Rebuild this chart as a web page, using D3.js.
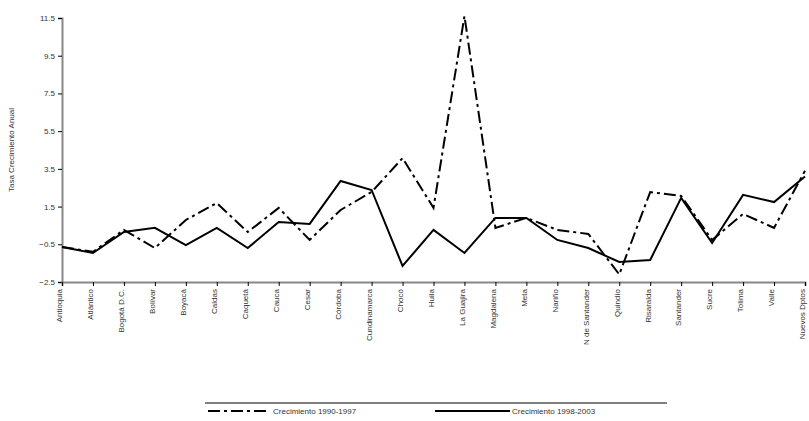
<!DOCTYPE html>
<html><head><meta charset="utf-8">
<script src="https://cdn.jsdelivr.net/npm/d3@7"></script>
<style>
body{margin:0;background:#fff;}
text{font-family:Arial,"Liberation Sans",sans-serif;fill:#333;}
</style></head>
<body><svg width="809" height="421"></svg>
<script>
// Departments on the x axis
var departments = ["Antioquia","Atlántico","Bogotá D.C.","Bolívar","Boyacá","Caldas","Caquetá","Cauca","Cesar","Córdoba","Cundinamarca","Chocó","Huila","La Guajira","Magdalena","Meta","Nariño","N de Santander","Quindío","Risaralda","Santander","Sucre","Tolima","Valle","Nuevos Dptos"];
// Growth 1990-1997 (dashed)
var growth1 = [-0.64,-0.9,0.26,-0.7,0.79,1.69,0.15,1.43,-0.27,1.32,2.27,4.07,1.43,11.6,0.37,0.9,0.26,0.05,-2.1,2.27,2.06,-0.27,1.11,0.37,3.4];
// Growth 1998-2003 (solid)
var growth2 = [-0.64,-0.96,0.15,0.37,-0.54,0.37,-0.7,0.68,0.58,2.86,2.38,-1.65,0.26,-0.96,0.9,0.9,-0.27,-0.7,-1.44,-1.33,1.96,-0.43,2.12,1.74,3.1];
var yTicks = [-2.5,-0.5,1.5,3.5,5.5,7.5,9.5,11.5];
var seriesNames = ["Crecimiento 1990-1997","Crecimiento 1998-2003"];

var svg = d3.select("svg");
var plotLeft = 62, plotRight = 805, plotTop = 18, plotBottom = 282;

var x = d3.scalePoint().domain(departments).range([plotLeft, plotRight]).padding(0);
var y = d3.scaleLinear().domain([-2.5, 11.5]).range([plotBottom, plotTop]);

svg.append("g").attr("transform","translate(" + plotLeft + ",0)")
  .call(d3.axisLeft(y).tickValues(yTicks).tickSize(4).tickFormat(d3.format(".1f")))
  .call(g => g.selectAll("text").attr("font-size", 8))
  .call(g => g.select(".domain").attr("stroke","#888").attr("stroke-width",2));

var xa = svg.append("g").attr("transform","translate(0," + plotBottom + ")")
  .call(d3.axisBottom(x).tickSize(4))
  .call(g => g.select(".domain").attr("stroke","#888").attr("stroke-width",2));
xa.selectAll("text").attr("font-size", 8)
  .attr("transform","rotate(-90)").attr("text-anchor","end")
  .attr("x",-7).attr("y",-3).attr("dy","0.35em");

svg.append("text").attr("transform","translate(14,150) rotate(-90)")
  .attr("text-anchor","middle").attr("font-size",8).text("Tasa Crecimiento Anual");

var line = d3.line().x((d,i) => x(departments[i])).y(d => y(d));
svg.append("path").datum(growth1).attr("d", line).attr("fill","none")
  .attr("stroke","#000").attr("stroke-width",2).attr("stroke-dasharray","12,4,3,4");
svg.append("path").datum(growth2).attr("d", line).attr("fill","none")
  .attr("stroke","#000").attr("stroke-width",2);

// Legend
var lg = svg.append("g");
lg.append("line").attr("x1",205).attr("x2",667).attr("y1",403).attr("y2",403).attr("stroke","#000");
lg.append("line").attr("x1",208).attr("x2",270).attr("y1",411).attr("y2",411)
  .attr("stroke","#000").attr("stroke-width",2).attr("stroke-dasharray","12,4,3,4");
lg.append("text").attr("x",273).attr("y",414).attr("font-size",8).text(seriesNames[0]);
lg.append("line").attr("x1",435).attr("x2",510).attr("y1",411).attr("y2",411)
  .attr("stroke","#000").attr("stroke-width",2);
lg.append("text").attr("x",512).attr("y",414).attr("font-size",8).text(seriesNames[1]);
</script></body></html>
